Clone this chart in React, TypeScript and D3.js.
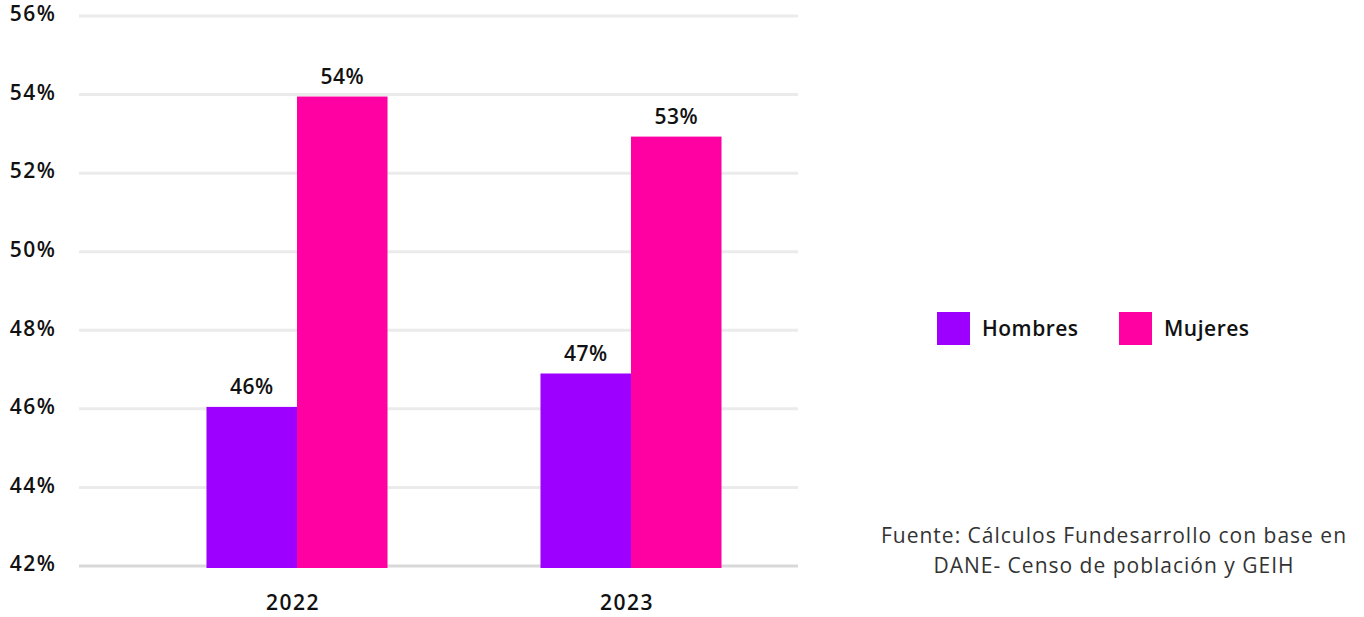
import { useRef, useEffect } from "react";
import * as d3 from "d3";

const years = ["2022", "2023"];
const seriesNames = ["Hombres", "Mujeres"];
const hombres = [46.05, 46.9];
const mujeres = [53.95, 52.93];
const valueLabels = [
  ["46%", "54%"],
  ["47%", "53%"],
];
const yTicks = [42, 44, 46, 48, 50, 52, 54, 56];
const colors = ["#9d00ff", "#ff00a2"];
const sourceLines = [
  "Fuente: Cálculos Fundesarrollo con base en",
  "DANE- Censo de población y GEIH",
];

const FONT = "'Open Sans', Lato, sans-serif";

function App() {
  const svgRef = useRef<SVGSVGElement>(null);

  useEffect(() => {
    drawChart();
  }, []);

  function drawChart() {
    if (!svgRef.current) return;
    const svg = d3.select(svgRef.current);
    svg.selectAll("*").remove();

    const y = d3.scaleLinear().domain([42, 56]).range([566, 16]);
    const x = d3
      .scaleBand()
      .domain(years)
      .range([130, 798])
      .paddingInner(0.458)
      .paddingOuter(0.229);
    const xs = d3
      .scaleBand()
      .domain(seriesNames)
      .range([0, x.bandwidth()]);

    // gridlines
    svg
      .append("g")
      .selectAll("line")
      .data(yTicks)
      .join("line")
      .attr("x1", 79)
      .attr("x2", 798)
      .attr("y1", (d) => y(d))
      .attr("y2", (d) => y(d))
      .attr("stroke", (d) => (d === 42 ? "#d9d9d9" : "#ebebeb"))
      .attr("stroke-width", 3);

    // y tick labels
    svg
      .append("g")
      .selectAll("text")
      .data(yTicks)
      .join("text")
      .attr("x", 33)
      .attr("y", (d) => y(d) - 2)
      .attr("dy", "0.35em")
      .attr("text-anchor", "middle")
      .attr("font-family", FONT)
      .attr("font-weight", 600)
      .attr("font-size", 21)
      .attr("letter-spacing", 1.5)
      .attr("fill", "#111")
      .text((d) => `${d}%`);

    const rows = years.map((yr, i) => ({
      year: yr,
      vals: [hombres[i], mujeres[i]],
      labels: valueLabels[i],
    }));

    const groups = svg
      .append("g")
      .selectAll("g")
      .data(rows)
      .join("g")
      .attr("transform", (d) => `translate(${x(d.year)},0)`);

    groups
      .selectAll("rect")
      .data((d) => d.vals.map((v, j) => ({ v, j })))
      .join("rect")
      .attr("x", (d) => xs(seriesNames[d.j])!)
      .attr("width", xs.bandwidth())
      .attr("y", (d) => y(d.v))
      .attr("height", (d) => y(42) + 2 - y(d.v))
      .attr("fill", (d) => colors[d.j]);

    groups
      .selectAll("text.val")
      .data((d) => d.vals.map((v, j) => ({ v, j, label: d.labels[j] })))
      .join("text")
      .attr("class", "val")
      .attr("x", (d) => xs(seriesNames[d.j])! + xs.bandwidth() / 2)
      .attr("y", (d) => y(d.v) - 13)
      .attr("text-anchor", "middle")
      .attr("font-family", FONT)
      .attr("font-weight", 600)
      .attr("font-size", 21)
      .attr("letter-spacing", 0.5)
      .attr("fill", "#111")
      .text((d) => d.label);

    // x labels
    svg
      .append("g")
      .selectAll("text")
      .data(years)
      .join("text")
      .attr("x", (d) => x(d)! + x.bandwidth() / 2 - 4)
      .attr("y", 610)
      .attr("text-anchor", "middle")
      .attr("font-family", FONT)
      .attr("font-weight", 600)
      .attr("font-size", 21)
      .attr("letter-spacing", 1.5)
      .attr("fill", "#111")
      .text((d) => d);

    // legend
    const legend = svg
      .append("g")
      .selectAll("g")
      .data(seriesNames)
      .join("g")
      .attr("transform", (_, i) => `translate(${937 + i * 182},312)`);
    legend
      .append("rect")
      .attr("width", 33)
      .attr("height", 33)
      .attr("fill", (_, i) => colors[i]);
    legend
      .append("text")
      .attr("x", 45)
      .attr("y", 16.5)
      .attr("dy", "0.35em")
      .attr("font-family", FONT)
      .attr("font-weight", 600)
      .attr("font-size", 21)
      .attr("letter-spacing", 0.5)
      .attr("fill", "#111")
      .text((d) => d);

    // source
    svg
      .append("g")
      .selectAll("text")
      .data(sourceLines)
      .join("text")
      .attr("x", 1114)
      .attr("y", (_, i) => 543 + i * 30)
      .attr("text-anchor", "middle")
      .attr("font-family", FONT)
      .attr("font-size", 21)
      .attr("letter-spacing", 1)
      .attr("fill", "#333")
      .text((d) => d);
  }

  return (
    <svg
      ref={svgRef}
      width={1364}
      height={617}
      style={{ position: "absolute", left: 0, top: 0, background: "#fff" }}
    />
  );
}

export default App;
